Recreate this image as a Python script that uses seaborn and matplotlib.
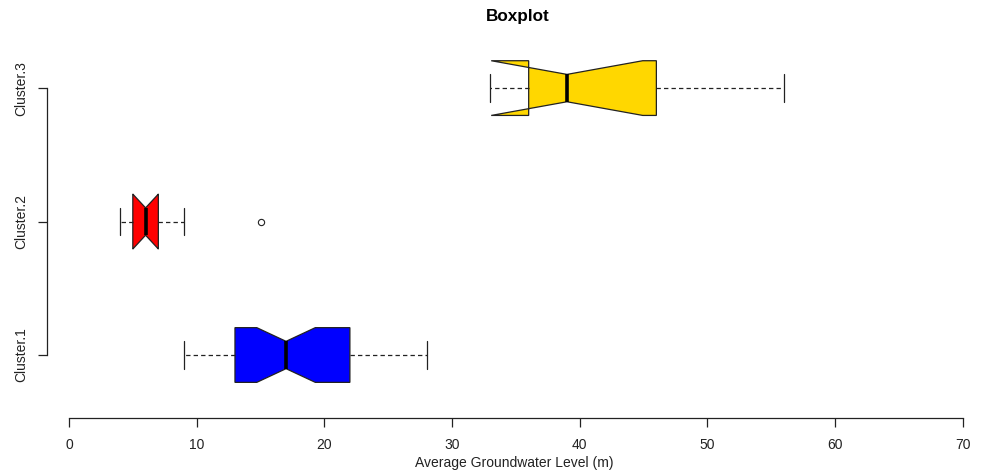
import matplotlib
matplotlib.use("Agg")
import matplotlib.pyplot as plt
import seaborn as sns
import pandas as pd

# ---- data ----
categories = ["Cluster.1", "Cluster.2", "Cluster.3"]
colors = ["#0000FF", "#FF0000", "#FFD700"]
cluster1 = [9, 10, 10, 11, 11, 12, 12, 12, 13, 13, 13, 14, 14, 15, 15, 16, 16, 16, 17,
            17, 18, 18, 19, 19, 20, 20, 21, 22, 22, 23, 23, 24, 24, 25, 26, 26, 27, 28]
cluster2 = [4, 5, 5, 5, 6, 6, 7, 7, 9, 15]
cluster3 = [33, 36, 36, 39, 46, 46, 56]
xticks = [0, 10, 20, 30, 40, 50, 60, 70]
title = "Boxplot"
xlabel = "Average Groundwater Level (m)"

df = pd.DataFrame({
    "cluster": (["Cluster.1"] * len(cluster1) + ["Cluster.2"] * len(cluster2)
                + ["Cluster.3"] * len(cluster3)),
    "level": cluster1 + cluster2 + cluster3,
})

sns.set_style("white")
plt.rcParams["font.family"] = ["Liberation Sans", "DejaVu Sans"]

fig = plt.figure(figsize=(9.84, 4.75), dpi=100)
W, H = 984, 475
ax = fig.add_axes([47 / W, 57 / H, (982 - 47) / W, (418 - 8) / H])

order = ["Cluster.3", "Cluster.2", "Cluster.1"]
pal = dict(zip(categories, colors))
sns.boxplot(
    data=df, x="level", y="cluster", hue="cluster", order=order,
    hue_order=order, palette=pal, legend=False, saturation=1,
    width=0.41, notch=True, linecolor="#222222", linewidth=0.9,
    fliersize=4.5, ax=ax,
    whiskerprops=dict(linestyle=(0, (3.5, 2.5)), color="#222222", linewidth=0.9),
    medianprops=dict(color="black", linewidth=2.6),
    flierprops=dict(marker="o", markerfacecolor="none",
                    markeredgecolor="#222222", markeredgewidth=0.8),
)

ax.set_xlim(-1.72, 71.5)
ax.set_ylim(2.472, -0.6)
ax.set_xticks(xticks)
ax.set_xticklabels([str(t) for t in xticks])
ax.set_yticks([0, 1, 2])
ax.set_yticklabels(order, rotation=90, va="center")

for s in ["top", "right"]:
    ax.spines[s].set_visible(False)
ax.spines["left"].set_bounds(0, 2)
ax.spines["bottom"].set_bounds(0, 70)
for s in ["left", "bottom"]:
    ax.spines[s].set_color("#222222")
    ax.spines[s].set_linewidth(0.9)
ax.tick_params(axis="both", which="major", length=6.5, width=0.9, color="#222222",
               labelsize=10, labelcolor="#222222", left=True, bottom=True)
ax.tick_params(axis="x", pad=8)
ax.tick_params(axis="y", pad=7)
ax.grid(False)
ax.set_ylabel("")
ax.set_xlabel(xlabel, fontsize=10, color="#222222", labelpad=3)
fig.text(518 / W, 1 - 16 / H, title, ha="center", va="center",
         fontsize=12.3, fontweight="bold", color="black")

fig.savefig("out.png", dpi=100)
